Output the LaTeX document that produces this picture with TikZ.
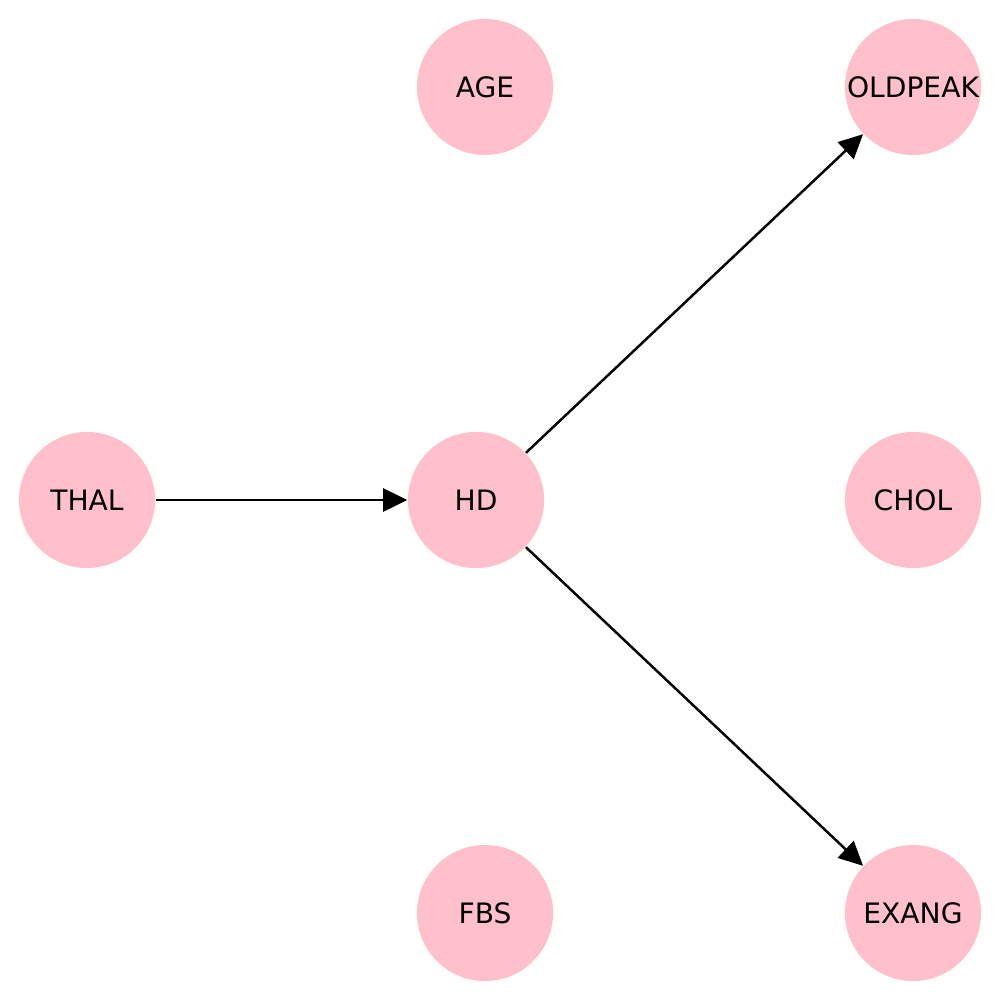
\documentclass[tikz,border=0pt]{standalone}
\usepackage{fontspec}
\setmainfont{DejaVu Sans}
\usetikzlibrary{arrows.meta}
\definecolor{nodepink}{RGB}{255,192,203}
\begin{document}
\begin{tikzpicture}[x=0.01cm,y=-0.01cm,
  vnode/.style={circle,fill=nodepink,draw=none,inner sep=0pt,minimum size=1.36cm,font=\fontsize{8}{9.6}\selectfont},
  edge/.style={line width=0.7pt,-{Triangle[length=0.24cm,width=0.23cm]}}]
\fill[white] (0,0) rectangle (1000,1000);
\useasboundingbox (0,0) rectangle (1000,1000);
\node[vnode] (AGE) at (485,87) {AGE};
\node[vnode] (OLDPEAK) at (913,87) {OLDPEAK};
\node[vnode] (THAL) at (87,500) {THAL};
\node[vnode] (HD) at (476,500) {HD};
\node[vnode] (CHOL) at (913,500) {CHOL};
\node[vnode] (FBS) at (485,913) {FBS};
\node[vnode] (EXANG) at (913,913) {EXANG};
\draw[edge] (THAL) -- (HD);
\draw[edge] (HD) -- (OLDPEAK);
\draw[edge] (HD) -- (EXANG);
\end{tikzpicture}
\end{document}
